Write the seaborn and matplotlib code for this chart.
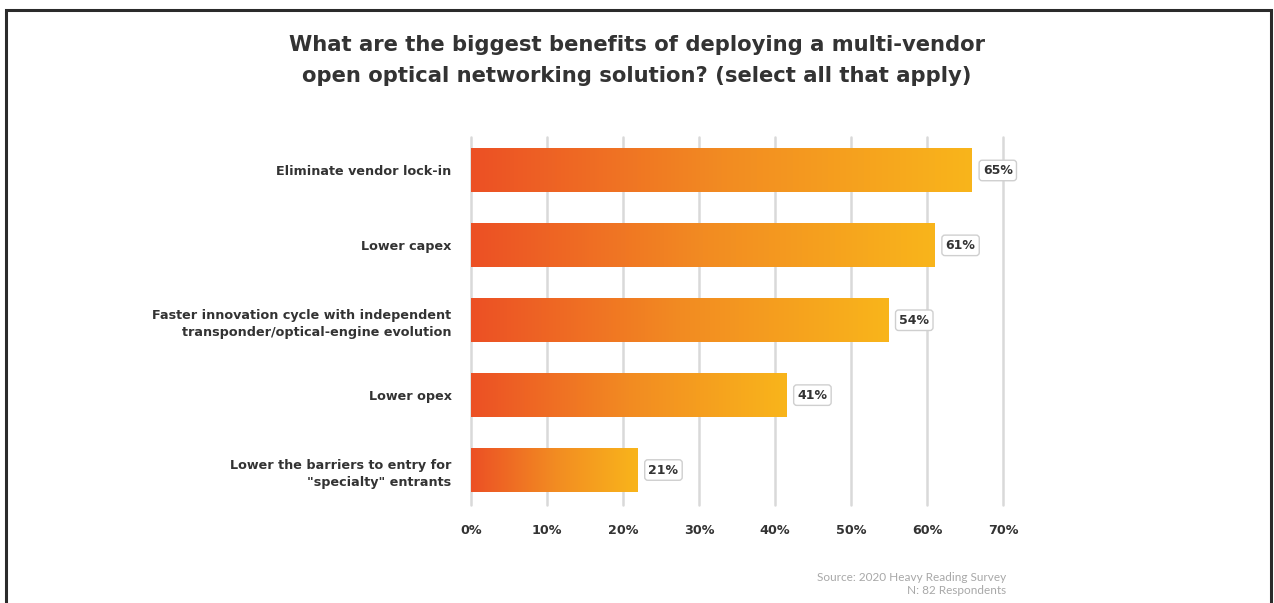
import numpy as np
import pandas as pd
import matplotlib
matplotlib.use("Agg")
import matplotlib.pyplot as plt
from matplotlib.colors import LinearSegmentedColormap
from matplotlib.patches import Rectangle
import seaborn as sns

categories = [
    "Eliminate vendor lock-in",
    "Lower capex",
    "Faster innovation cycle with independent\ntransponder/optical-engine evolution",
    "Lower opex",
    "Lower the barriers to entry for\n\"specialty\" entrants",
]
values = [65.9, 61.0, 54.9, 41.5, 21.9]
value_labels = ["65%", "61%", "54%", "41%", "21%"]
x_ticks = [0, 10, 20, 30, 40, 50, 60, 70]
x_tick_labels = ["0%", "10%", "20%", "30%", "40%", "50%", "60%", "70%"]
title = ("What are the biggest benefits of deploying a multi-vendor\n"
         "open optical networking solution? (select all that apply)")
source = "Source: 2020 Heavy Reading Survey\nN: 82 Respondents"

sns.set_theme(style="white")
plt.rcParams["font.family"] = ["DejaVu Sans"]

W, H = 1274, 603
fig = plt.figure(figsize=(W / 100, H / 100), dpi=100)
fig.patch.set_facecolor("white")

# frame border
fig.add_artist(Rectangle((6 / W, -0.1), (1271 - 6) / W, 1.1 - 10 / H,
                         transform=fig.transFigure, fill=False,
                         edgecolor="#2b2b2b", linewidth=2.2))

ax = fig.add_axes([471 / W, 1 - 505 / H, (1003 - 471) / W, (505 - 137) / H])
df = pd.DataFrame({"category": categories, "value": values})
sns.barplot(data=df, x="value", y="category", orient="h", width=0.587,
            color="#F08A24", ax=ax, zorder=3, edgecolor="none")

ax.set_xlim(0, 70)
ax.set_ylim(4.467, -0.447)
for x in x_ticks:
    ax.axvline(x, color="#d9d9d9", linewidth=1.8, zorder=1, clip_on=False)

cmap = LinearSegmentedColormap.from_list("grad", ["#EC5025", "#F28B22", "#F9B51B"])
grad = np.linspace(0, 1, 256).reshape(1, -1)
for patch, lab in zip(ax.patches, value_labels):
    x0, y0 = patch.get_x(), patch.get_y()
    w, h = patch.get_width(), patch.get_height()
    im = ax.imshow(grad, cmap=cmap, aspect="auto",
                   extent=(x0, x0 + w, y0 + h, y0), zorder=4, interpolation="bicubic")
    im.set_clip_path(patch)
    ax.text(x0 + w + 1.45, y0 + h / 2, lab, ha="left", va="center",
            fontsize=9, fontweight="bold", color="#333333", zorder=5,
            bbox=dict(boxstyle="round,pad=0.3,rounding_size=0.25", fc="white",
                      ec="#cfcfcf", lw=1.0))

ax.set_xticks(x_ticks)
ax.set_xticklabels(x_tick_labels, fontsize=9.2, fontweight="bold", color="#333333")
ax.tick_params(axis="x", length=0, pad=14)
ax.set_yticks(range(len(categories)))
ax.set_yticklabels(categories, fontsize=9.2, fontweight="bold", color="#333333",
                   linespacing=1.45)
ax.tick_params(axis="y", length=0, pad=14)
ax.set_xlabel("")
ax.set_ylabel("")
for s in ax.spines.values():
    s.set_visible(False)

fig.text(637 / W, 1 - 60.5 / H, title, ha="center", va="center", fontsize=15.2,
         fontweight="bold", color="#333333", linespacing=1.65)
fig.text(1006 / W, 1 - 584 / H, source, ha="right", va="center", fontsize=8.5,
         color="#a8a8a8", linespacing=1.3, family=["Lato", "DejaVu Sans"])

fig.savefig("out.png", dpi=100, facecolor="white")
